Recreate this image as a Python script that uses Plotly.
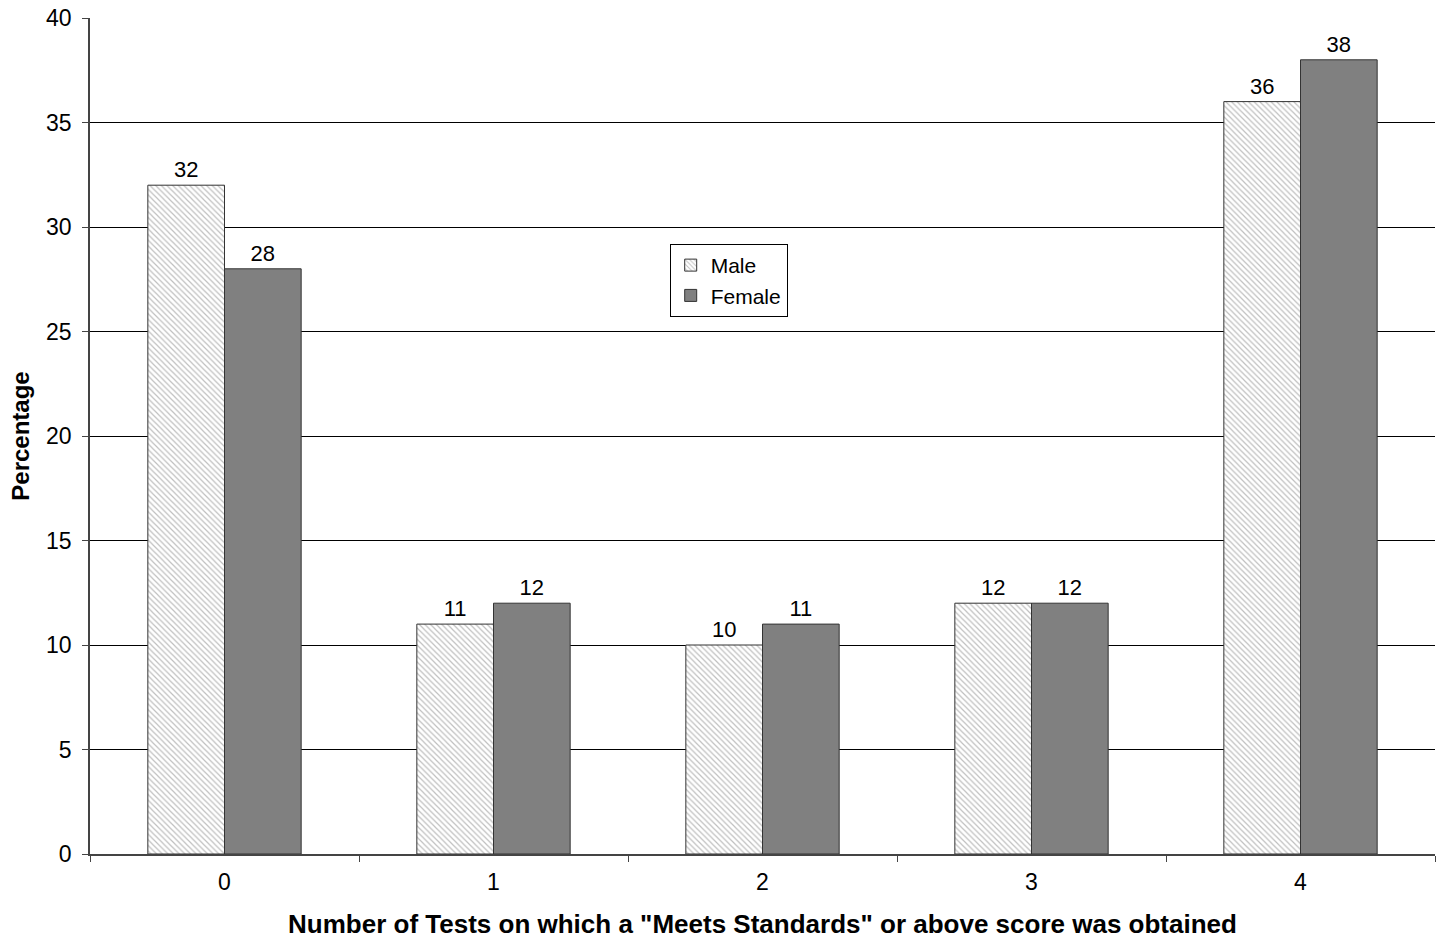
import plotly.graph_objects as go

categories = ["0", "1", "2", "3", "4"]
male = [32, 11, 10, 12, 36]
female = [28, 12, 11, 12, 38]

FONT = "Liberation Sans, Arial"

fig = go.Figure()
fig.add_trace(go.Bar(
    x=categories, y=male, name="Male",
    marker=dict(color="white", line=dict(color="#333333", width=1),
                pattern=dict(shape="\\", fgcolor="#808080", bgcolor="white", size=4, solidity=0.3)),
    text=[str(v) for v in male], textposition="outside",
    textfont=dict(family=FONT, size=22, color="black"),
    cliponaxis=False,
))
fig.add_trace(go.Bar(
    x=categories, y=female, name="Female",
    marker=dict(color="#808080", line=dict(color="#333333", width=1)),
    text=[str(v) for v in female], textposition="outside",
    textfont=dict(family=FONT, size=22, color="black"),
    cliponaxis=False,
))

fig.update_layout(
    width=1439, height=941,
    margin=dict(l=90, r=4, t=18, b=87),
    paper_bgcolor="white", plot_bgcolor="white",
    barmode="group", bargap=0.43, bargroupgap=0,
    font=dict(family=FONT, size=22, color="black"),
    legend=dict(x=0.431, y=0.7297, xanchor="left", yanchor="top",
                bordercolor="black", borderwidth=1, bgcolor="white",
                font=dict(size=21), tracegroupgap=0, itemwidth=30),
    xaxis=dict(
        title=dict(text='<b>Number of Tests on which a "Meets Standards" or above score was obtained</b>',
                   font=dict(size=26), standoff=20),
        automargin=False,
        tickson="boundaries", ticks="outside", ticklen=6, tickcolor="#444444",
        ticklabelstandoff=7,
        showline=True, linecolor="#444444", linewidth=1.5,
        showgrid=False, tickfont=dict(size=23),
    ),
    yaxis=dict(
        title=dict(text="<b>Percentage</b>", font=dict(size=24), standoff=10),
        automargin=False,
        range=[0, 40], dtick=5, ticks="outside", ticklen=6, tickcolor="#444444",
        ticklabelstandoff=6,
        showline=True, linecolor="#444444", linewidth=1.5,
        showgrid=True, gridcolor="black", gridwidth=1,
        tickfont=dict(size=23), zeroline=False,
    ),
)

fig.write_html("out.html", config={"displayModeBar": False},
               post_script="document.body.style.margin='0';document.body.style.overflow='hidden';")
